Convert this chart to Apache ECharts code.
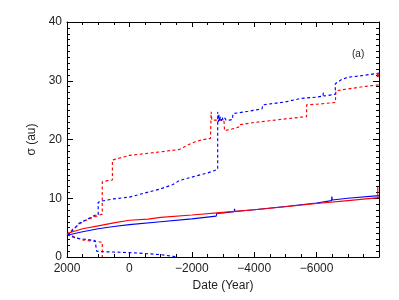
<!DOCTYPE html>
<html><head><meta charset="utf-8">
<script src="https://cdn.jsdelivr.net/npm/echarts@6/dist/echarts.min.js"></script>
<style>html,body{margin:0;padding:0;background:#fff}#c{width:399px;height:300px}</style>
</head><body><div id="c"></div>
<script>
// ---- data (year, sigma in au) ----
const xTickValues = [2000, 0, -2000, -4000, -6000];
const xTickLabels = ['2000', '0', '\u22122000', '\u22124000', '\u22126000'];
const yTickLabels = ['0', '10', '20', '30', '40'];

const redSolid = [[2000,4.0],[1500,4.8],[1000,5.3],[500,5.8],[0,6.25],[-600,6.45],[-620,6.6],[-1000,6.75],[-2000,7.15],[-3000,7.6],[-4000,8.05],[-5000,8.55],[-6000,9.1],[-7000,9.6],[-8000,10.1]];
const blueSolid = [[2000,3.7],[1500,4.3],[1000,4.8],[500,5.2],[0,5.5],[-1000,6.0],[-2000,6.5],[-2780,6.95],[-2800,7.4],[-3000,7.5],[-3360,7.7],[-3370,8.2],[-3380,7.75],[-4000,8.05],[-5000,8.6],[-6000,9.2],[-6480,9.6],[-6490,10.3],[-6500,9.7],[-7000,10.0],[-8000,10.45]];
const redUpper = [[2000,3.8],[1800,4.8],[1500,6.0],[1200,6.7],[870,7.3],[870,12.8],[700,13.0],[545,13.1],[545,16.5],[500,16.8],[0,17.3],[-500,17.6],[-1000,17.9],[-1600,18.3],[-1620,18.6],[-2000,19.4],[-2300,19.9],[-2600,20.2],[-2620,24.7],[-2640,23.3],[-3030,23.3],[-3050,21.5],[-3300,21.8],[-3500,22.1],[-3520,22.5],[-4000,22.9],[-4500,23.2],[-5000,23.5],[-5500,23.8],[-5680,23.9],[-5680,25.9],[-6000,26.0],[-6600,26.3],[-6620,28.3],[-7000,28.6],[-7500,29.0],[-8000,29.3]];
const blueUpper = [[2000,3.6],[1800,4.6],[1600,5.8],[1400,6.3],[1100,7.1],[1000,7.2],[1000,9.3],[900,9.5],[500,9.9],[0,10.2],[-500,10.9],[-1000,11.6],[-1380,12.3],[-1400,12.6],[-1600,13.0],[-2000,13.6],[-2500,14.3],[-2830,14.9],[-2830,24.7],[-2850,23.0],[-2870,24.2],[-2890,23.1],[-2910,23.9],[-2940,23.2],[-2970,23.8],[-3000,23.3],[-3050,23.7],[-3100,23.3],[-3150,23.6],[-3200,23.3],[-3300,23.4],[-3320,24.4],[-3800,24.8],[-4250,25.2],[-4280,25.9],[-5000,26.4],[-5500,27.0],[-6000,27.2],[-6200,27.4],[-6220,28.0],[-6240,27.4],[-6600,27.7],[-6600,29.5],[-6800,30.2],[-7000,30.6],[-7500,30.9],[-8000,31.3]];
const redLower = [[2000,4.0],[1800,3.5],[1500,2.9],[1200,2.7],[1000,2.6],[870,2.5],[870,0]];
const blueLower = [[2000,3.8],[1700,3.2],[1400,3.0],[1100,2.8],[1050,2.7],[1050,1.0],[900,0.9],[500,0.85],[0,0.75],[-500,0.6],[-1000,0.4],[-1500,0.05]];
const redEndBar = [[-7960,10.1],[-7960,11.9]];
const redEndTop = [[-7960,30.6],[-7960,31.3]];

const RED = '#ff0000', BLUE = '#0000ff';
const FONT = 'Liberation Sans';
function xFmt(v){ const i = xTickValues.indexOf(v); return i >= 0 ? xTickLabels[i] : ''; }
function yFmt(v){ const s = String(v); return yTickLabels.indexOf(s) >= 0 ? s : ''; }

const axisLine = {show:true, onZero:false, lineStyle:{color:'#000', width:1}};
const chart = echarts.init(document.getElementById('c'), null, {renderer:'canvas'});
function line(data, color, dashed, width){
  return {type:'line', data, showSymbol:false, symbol:'none', animation:false, silent:true,
    lineStyle:{color, width: width || 1.15, type: dashed ? [3,2.5] : 'solid'}, z: dashed ? 2 : 3};
}
chart.setOption({
  animation:false,
  backgroundColor:'#fff',
  grid:{left:67, right:20, top:22, bottom:43, containLabel:false},
  xAxis:[
    {type:'value', min:-8000, max:2000, interval:2000, inverse:true, position:'bottom',
      name:'Date (Year)', nameLocation:'middle', nameGap:20,
      nameTextStyle:{fontFamily:FONT, fontSize:12, color:'#222'},
      axisLine, splitLine:{show:false},
      axisTick:{inside:true, length:5, lineStyle:{color:'#000'}},
      minorTick:{show:true, splitNumber:4, length:3, lineStyle:{color:'#000'}},
      axisLabel:{formatter:xFmt, fontFamily:FONT, fontSize:12, color:'#222', margin:6, showMaxLabel:true, showMinLabel:true}
    },
    {type:'value', min:-8000, max:2000, interval:2000, inverse:true, position:'top',
      axisLine, splitLine:{show:false},
      axisTick:{inside:true, length:5, lineStyle:{color:'#000'}},
      minorTick:{show:true, splitNumber:4, length:3, lineStyle:{color:'#000'}},
      axisLabel:{show:false}
    }
  ],
  yAxis:[
    {type:'value', min:0, max:40, interval:10, position:'left',
      name:'\u03c3 (au)', nameLocation:'middle', nameGap:29,
      nameTextStyle:{fontFamily:FONT, fontSize:12, color:'#222'},
      axisLine, splitLine:{show:false},
      axisTick:{inside:true, length:6, lineStyle:{color:'#000'}},
      minorTick:{show:true, splitNumber:10, length:3, lineStyle:{color:'#000'}},
      axisLabel:{formatter:yFmt, fontFamily:FONT, fontSize:12, color:'#222', margin:5}
    },
    {type:'value', min:0, max:40, interval:10, position:'right',
      axisLine, splitLine:{show:false},
      axisTick:{inside:true, length:6, lineStyle:{color:'#000'}},
      minorTick:{show:true, splitNumber:10, length:3, lineStyle:{color:'#000'}},
      axisLabel:{show:false}
    }
  ],
  graphic:[{type:'text', left:352, top:49, style:{text:'(a)', font:'10px "Liberation Sans"', fill:'#222'}}],
  series:[
    line(redLower, RED, true),
    line(blueLower, BLUE, true),
    line(redUpper, RED, true),
    line(blueUpper, BLUE, true),
    line(blueSolid, BLUE, false),
    line(redSolid, RED, false),
    line(redEndBar, RED, false),
    line(redEndTop, RED, false, 2)
  ]
});
</script></body></html>
